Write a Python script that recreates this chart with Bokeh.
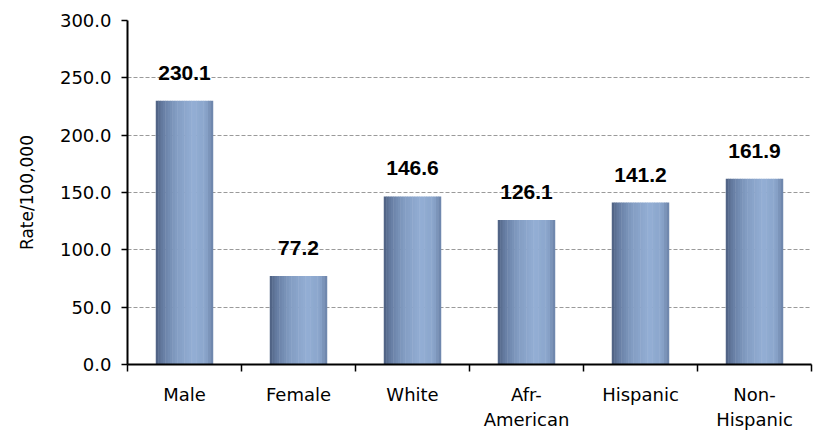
from bokeh.plotting import figure
from bokeh.models import ColumnDataSource, FixedTicker, Range1d, NumeralTickFormatter
from bokeh.transform import dodge
from bokeh.core.properties import value
from bokeh.embed import file_html
from bokeh.resources import INLINE

categories = ["Male", "Female", "White", "Afr-\nAmerican", "Hispanic", "Non-\nHispanic"]
rates = [230.1, 77.2, 146.6, 126.1, 141.2, 161.9]
y_ticks = [0, 50, 100, 150, 200, 250, 300]

xs = [i + 0.5 for i in range(len(categories))]
src = ColumnDataSource(dict(x=xs, rate=rates, label=["%.1f" % r for r in rates]))

p = figure(width=815, height=432, x_range=Range1d(0, len(categories)), y_range=Range1d(0, 300),
           output_backend="svg", toolbar_location=None,
           min_border_left=127, min_border_right=4, min_border_top=20, min_border_bottom=68)
p.outline_line_color = None
p.background_fill_color = "white"
p.border_fill_color = "white"

# grid
p.xgrid.visible = False
p.ygrid.ticker = FixedTicker(ticks=y_ticks)
p.ygrid.grid_line_color = "#9A9A9A"
p.ygrid.grid_line_dash = "4 2"
p.ygrid.grid_line_width = 1

# bars with cylindrical shading
def lerp(c1, c2, t):
    return tuple(int(round(a + (b - a) * t)) for a, b in zip(c1, c2))

stops = [(0.0, (0x4C, 0x5F, 0x80)), (0.12, (0x66, 0x7D, 0xA3)), (0.35, (0x82, 0x9C, 0xC2)),
         (0.65, (0x93, 0xAE, 0xD4)), (0.88, (0x8A, 0xA5, 0xCB)), (1.0, (0x6A, 0x82, 0xA8))]

def shade(t):
    for (t0, c0), (t1, c1) in zip(stops[:-1], stops[1:]):
        if t0 <= t <= t1:
            return "#%02x%02x%02x" % lerp(c0, c1, (t - t0) / (t1 - t0))
    return "#%02x%02x%02x" % stops[-1][1]

bar_w = 0.5
N = 24
sw = bar_w / N
for k in range(N):
    t = (k + 0.5) / N
    off = -bar_w / 2 + (k + 0.5) * sw
    p.vbar(x=dodge("x", off, range=p.x_range), top="rate", bottom=0, width=sw * 1.2,
           source=src, fill_color=shade(t), line_color=None)

# value labels
p.text(x="x", y="rate", text="label", source=src, text_align="center", text_baseline="middle",
       y_offset=-28, text_font=value("Liberation Sans"), text_font_style="bold",
       text_font_size="21px", text_color="black")

# y axis
ya = p.yaxis[0]
ya.ticker = FixedTicker(ticks=y_ticks)
ya.formatter = NumeralTickFormatter(format="0.0")
ya.axis_line_color = "black"
ya.axis_line_width = 2
ya.major_tick_out = 6
ya.major_tick_in = 0
ya.minor_tick_line_color = None
ya.major_tick_line_color = "black"
ya.major_tick_line_width = 1.5
ya.major_label_text_font = "DejaVu Sans"
ya.major_label_text_font_size = "18px"
ya.major_label_text_color = "black"
ya.major_label_standoff = 10
ya.axis_label = "Rate/100,000"
ya.axis_label_text_font = "DejaVu Sans"
ya.axis_label_text_font_size = "17px"
ya.axis_label_text_font_style = "normal"
ya.axis_label_text_color = "black"
ya.axis_label_standoff = 20

# x axis
xa = p.xaxis[0]
xa.ticker = FixedTicker(ticks=xs, minor_ticks=list(range(len(categories) + 1)))
xa.major_label_overrides = {x: c for x, c in zip(xs, categories)}
xa.axis_line_color = "black"
xa.axis_line_width = 2
xa.major_tick_out = 0
xa.major_tick_in = 0
xa.minor_tick_out = 7
xa.minor_tick_in = 0
xa.minor_tick_line_color = "black"
xa.minor_tick_line_width = 1.5
xa.major_label_text_font = "DejaVu Sans"
xa.major_label_text_font_size = "18px"
xa.major_label_text_color = "black"
xa.major_label_standoff = 12

open("out.html", "w").write(file_html(p, INLINE))
